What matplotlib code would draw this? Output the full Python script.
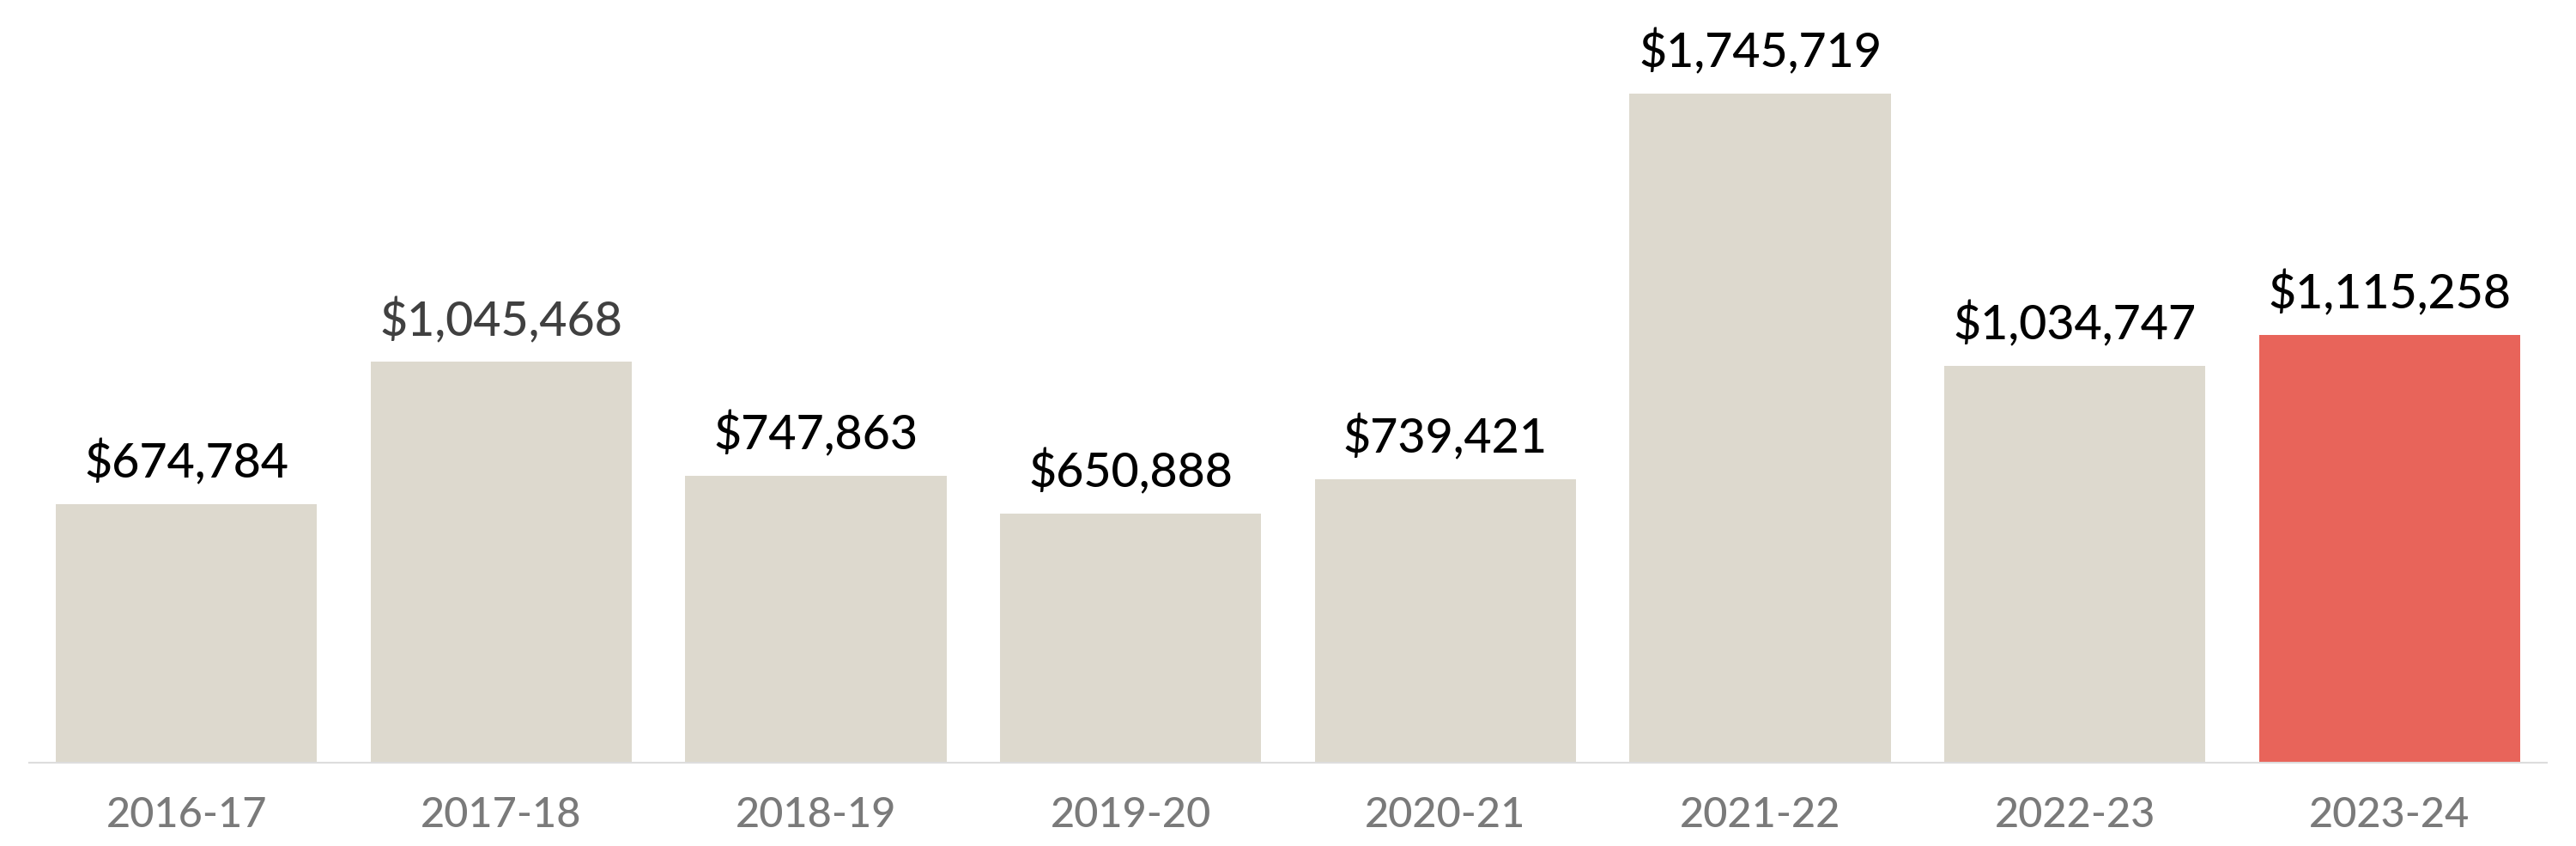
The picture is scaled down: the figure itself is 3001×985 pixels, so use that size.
# Bar chart of yearly totals, last year highlighted
import numpy as np
import matplotlib.pyplot as plt

years = ['2016-17', '2017-18', '2018-19', '2019-20', '2020-21', '2021-22', '2022-23', '2023-24']
totals = [674784, 1045468, 747863, 650888, 739421, 1745719, 1034747, 1115258]

plt.rcParams['font.family'] = ['Lato', 'DejaVu Sans']

fig = plt.figure(figsize=(30.01, 9.85), dpi=100)
ax = fig.add_axes([0.0113, 0.0985, 0.9774, 0.9015])

x = np.arange(len(years))
colors = ['#ddd9ce'] * (len(years) - 1) + ['#e8645a']
bars = ax.bar(x, totals, width=0.83, color=colors)

label_colors = ['black'] * len(years)
label_colors[1] = '#404040'
for b, v, c in zip(bars, totals, label_colors):
    ax.annotate('${:,}'.format(v), (b.get_x() + b.get_width() / 2, v),
                xytext=(0, 22), textcoords='offset points',
                ha='center', va='baseline', fontsize=40, color=c,
                fontweight='medium')

ax.set_xlim(-0.5, 7.5)
ax.set_ylim(0, 1990000)
ax.set_xticks(x)
ax.set_xticklabels(years, fontsize=35, color='#7a7a7a', fontweight='medium')
ax.tick_params(axis='x', length=0, pad=28)
ax.set_yticks([])
for s in ['top', 'right', 'left']:
    ax.spines[s].set_visible(False)
ax.spines['bottom'].set_color('#dddddd')
ax.spines['bottom'].set_linewidth(1.5)

plt.savefig('out.png', dpi=100)
